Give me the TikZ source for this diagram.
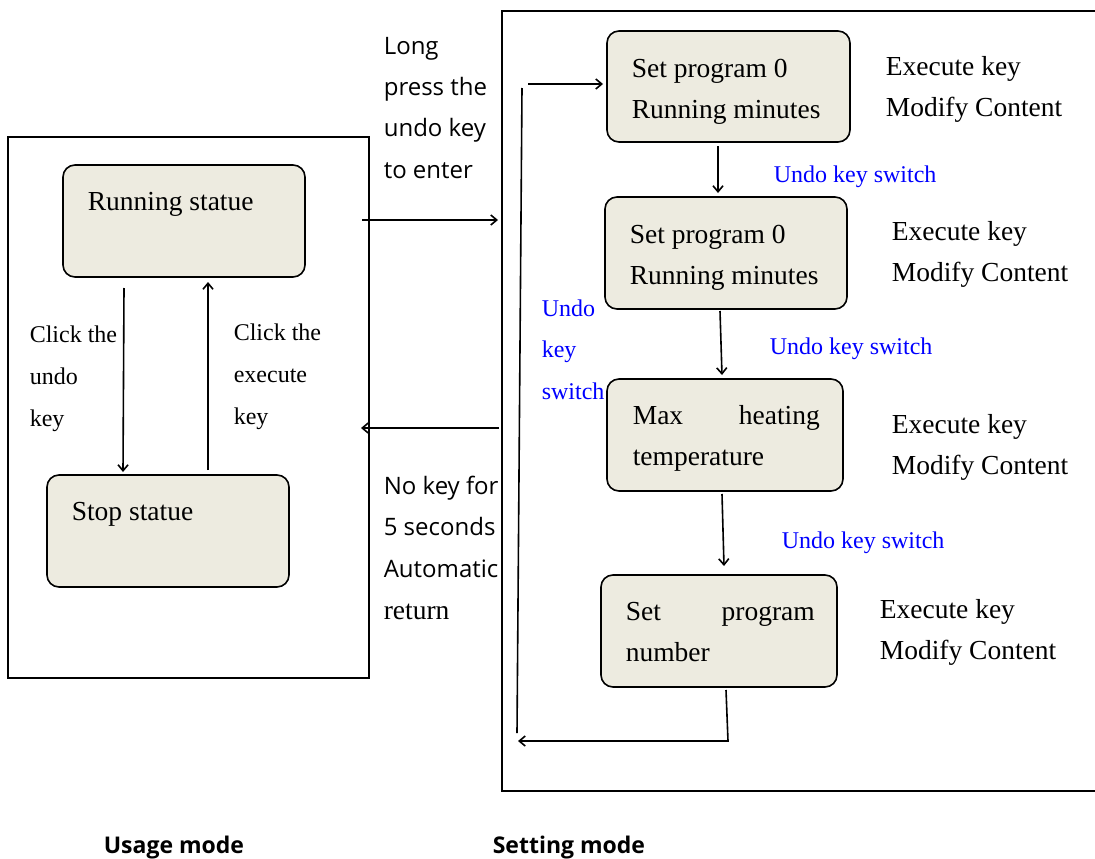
\documentclass[tikz,border=0pt]{standalone}
\usepackage{fontspec}
\setmainfont{Liberation Serif}
\newfontfamily\sansf{Open Sans}
\usetikzlibrary{arrows.meta}
\definecolor{boxfill}{RGB}{237,235,224}
\begin{document}
\begin{tikzpicture}[x=1pt,y=-1pt,
  line width=1.6pt,
  frame/.style={draw, anchor=north west, inner sep=0pt, line width=1.6pt},
  st/.style={draw, rounded corners=12pt, fill=boxfill, line width=1.6pt, inner sep=0pt},
  arr/.style={-{Straight Barb[length=6pt,width=10pt]}, line width=1.6pt},
  serif/.style={font=\fontsize{27.5}{41}\selectfont, anchor=base west, align=left, inner sep=0pt},
  small/.style={font=\fontsize{24}{42}\selectfont, anchor=base west, align=left, inner sep=0pt},
  blu/.style={font=\fontsize{24}{41.5}\selectfont, text=blue, anchor=base west, align=left, inner sep=0pt},
  sans/.style={font=\sansf\fontsize{24}{41.3}\selectfont, anchor=base west, align=left, inner sep=0pt},
  bsans/.style={font=\sansf\bfseries\fontsize{23}{27}\selectfont, anchor=base west, inner sep=0pt},
]
\useasboundingbox (0,0) rectangle (1095,859);
\clip (0,0) rectangle (1095,859);
% outer frames
\node[frame, minimum width=361pt, minimum height=541pt] (usage) at (7,136) {};
\node[frame, minimum width=600pt, minimum height=780pt] (setting) at (501,10) {};
% state boxes
\node[st, minimum width=242pt, minimum height=112pt] (run) at (184,221) {};
\node[st, minimum width=242pt, minimum height=112pt] (stop) at (168,531) {};
\node[st, minimum width=243pt, minimum height=111pt] (b1) at (728.5,86.5) {};
\node[st, minimum width=242pt, minimum height=112pt] (b2) at (726,253) {};
\node[st, minimum width=236pt, minimum height=112pt] (b3) at (725,435) {};
\node[st, minimum width=236pt, minimum height=112pt] (b4) at (719,631) {};
% box texts (anchor = baseline of last line)
\node[serif] (runT) at (87,210) {Running statue};
\node[serif] (stopT) at (71,520) {Stop statue};
\node[serif] (b1T) at (631,118) {Set program 0\\Running minutes};
\node[serif] (b2T) at (629,284) {Set program 0\\Running minutes};
\node[serif] (b3T) at (632,465) {\hbox to 187pt{Max\hfill heating}\\temperature};
\node[serif] (b4T) at (625,661) {\hbox to 189pt{Set\hfill program}\\number};
% right texts
\node[serif] (e1) at (885,116) {Execute key\\Modify Content};
\node[serif] (e2) at (891,281) {Execute key\\Modify Content};
\node[serif] (e3) at (891,474) {Execute key\\Modify Content};
\node[serif] (e4) at (879,659) {Execute key\\Modify Content};
% left labels
\node[small] (cu) at (29,426) {Click the\\undo\\key};
\node[small] (ce) at (233,424) {Click the\\execute\\key};
% blue labels
\node[blu] (u1) at (773,182) {Undo key switch};
\node[blu] (u2) at (769,354) {Undo key switch};
\node[blu] (u3) at (781,548) {Undo key switch};
\node[blu] (u4) at (541,399) {Undo\\key\\switch};
% middle sans labels
\node[sans] (lp) at (383,178) {Long\\press the\\undo key\\to enter};
\begin{scope}
\clip (370,450) rectangle (502,590);
\node[sans] (nk) at (383,577) {No key for\\5 seconds\\Automatic};
\end{scope}
\node[serif] (ret) at (383,619) {return};
% bottom labels
\node[bsans] (um) at (103,853) {Usage mode};
\node[bsans] (sm) at (492,853) {Setting mode};
% connector end points
\coordinate (d1s) at (124,288); \coordinate (d1e) at (123,472);
\coordinate (u1s) at (208,470); \coordinate (u1e) at (208,282);
\coordinate (rs) at (362,220); \coordinate (re) at (498,220);
\coordinate (ls) at (499,428); \coordinate (le) at (361,428);
\coordinate (s12) at (718,146); \coordinate (e12) at (718,193);
\coordinate (s23) at (720,311); \coordinate (e23) at (722,375);
\coordinate (s34) at (722,494); \coordinate (e34) at (724,566);
\coordinate (lt) at (522,88); \coordinate (lb) at (517,733);
\coordinate (ts) at (528,84); \coordinate (te) at (603,84);
\coordinate (bs) at (726,690); \coordinate (bc) at (728,741); \coordinate (be) at (518,741);
% connectors
\draw[arr] (d1s) -- (d1e);
\draw[arr] (u1s) -- (u1e);
\draw[arr] (rs) -- (re);
\draw[arr] (ls) -- (le);
\draw[arr] (s12) -- (e12);
\draw[arr] (s23) -- (e23);
\draw[arr] (s34) -- (e34);
\draw (lt) -- (lb);
\draw[arr] (ts) -- (te);
\draw[arr] (bs) -- (bc) -- (be);
\end{tikzpicture}
\end{document}
